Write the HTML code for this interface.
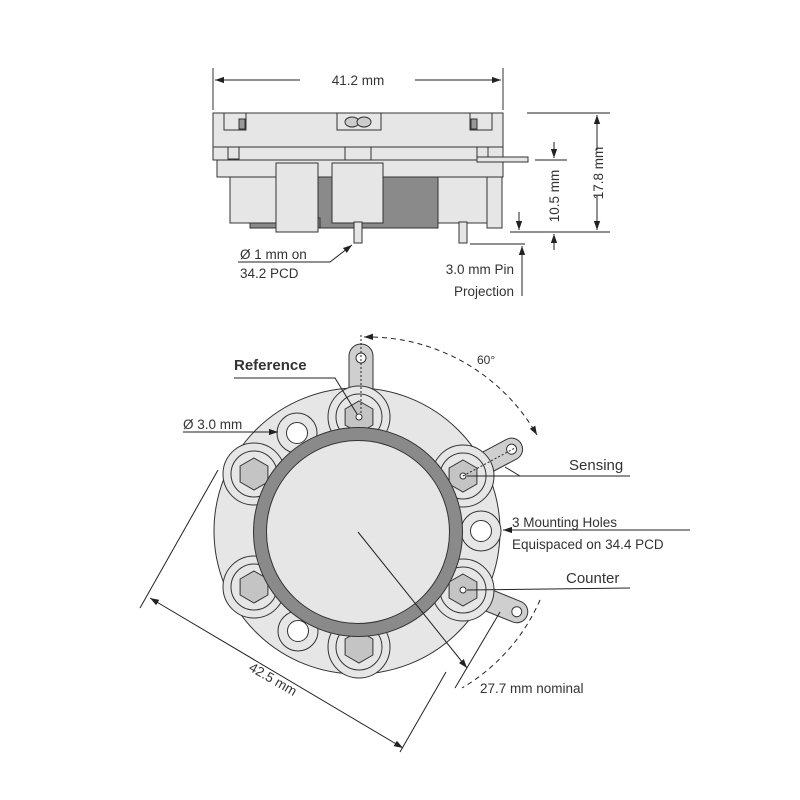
<!DOCTYPE html>
<html><head><meta charset="utf-8"><style>
html,body{margin:0;padding:0;background:#fff;}
svg{display:block;}
text{font-family:"Liberation Sans",sans-serif;fill:#333;}
</style></head><body>
<svg width="800" height="800" viewBox="0 0 800 800" xmlns="http://www.w3.org/2000/svg">
<defs>
<marker id="a" viewBox="0 0 10 10" refX="10" refY="5" markerWidth="9" markerHeight="9" orient="auto-start-reverse"><path d="M0,1.5 L10,5 L0,8.5 z" fill="#222"/></marker>
<g id="boss">
<circle r="31" fill="#e6e6e6" stroke="#333" stroke-width="1"/>
<circle r="23" fill="#e6e6e6" stroke="#333" stroke-width="1"/>
<polygon points="0,-16 13.9,-8 13.9,8 0,16 -13.9,8 -13.9,-8" fill="#c4c4c4" stroke="#333" stroke-width="1"/>
</g>
<g id="hole">
<circle r="20" fill="#e6e6e6" stroke="#333" stroke-width="1"/>
<circle r="10.5" fill="#fff" stroke="#333" stroke-width="1"/>
</g>
</defs>

<!-- TOP SIDE VIEW -->
<g stroke="#333" stroke-width="1" fill="#e6e6e6">
<line x1="213" y1="68" x2="213" y2="110"/>
<line x1="503" y1="68" x2="503" y2="110"/>
<rect x="318" y="177" width="120" height="51" fill="#8a8a8a"/>
<rect x="250" y="218" width="70" height="10" fill="#8a8a8a"/>
<rect x="213" y="113" width="290" height="34"/>
<rect x="224" y="113" width="22" height="17"/>
<rect x="239" y="119" width="6" height="10" fill="#999"/>
<rect x="337" y="113" width="44" height="17"/>
<ellipse cx="352" cy="122" rx="7" ry="5" fill="#ccc"/>
<ellipse cx="364" cy="122" rx="7" ry="5" fill="#ccc"/>
<rect x="470" y="113" width="22" height="17"/>
<rect x="471" y="119" width="6" height="10" fill="#999"/>
<rect x="213" y="147" width="290" height="13"/>
<rect x="228" y="147" width="11" height="12"/>
<rect x="345" y="147" width="26" height="13"/>
<rect x="477" y="147" width="11" height="12"/>
<rect x="217" y="160" width="286" height="17"/>
<rect x="230" y="177" width="46" height="46"/>
<rect x="276" y="163" width="42" height="69"/>
<rect x="332" y="163" width="51" height="60"/>
<rect x="438" y="177" width="49" height="46"/>
<rect x="487" y="177" width="15" height="51"/>
<rect x="477" y="157" width="51" height="5"/>
<rect x="354" y="222" width="8" height="21"/>
<rect x="459" y="222" width="8" height="21"/>
</g>
<g stroke="#222" stroke-width="1" fill="none">
<line x1="215" y1="80" x2="300" y2="80" marker-start="url(#a)"/>
<line x1="415" y1="80" x2="501" y2="80" marker-end="url(#a)"/>
<line x1="527" y1="113" x2="610" y2="113"/>
<line x1="510" y1="232" x2="610" y2="232"/>
<line x1="535" y1="160" x2="567" y2="160"/>
<line x1="470" y1="244" x2="525" y2="244"/>
<line x1="597" y1="150" x2="597" y2="115" marker-end="url(#a)"/>
<line x1="597" y1="196" x2="597" y2="230" marker-end="url(#a)"/>
<line x1="554" y1="142" x2="554" y2="158" marker-end="url(#a)"/>
<line x1="554" y1="250" x2="554" y2="234" marker-end="url(#a)"/>
<line x1="519" y1="212" x2="519" y2="230" marker-end="url(#a)"/>
<line x1="522" y1="296" x2="522" y2="246" marker-end="url(#a)"/>
<polyline points="238,262 330,262 352,245" marker-end="url(#a)"/>
</g>
<text x="358" y="85" font-size="13.5" text-anchor="middle">41.2 mm</text>
<text transform="translate(603,173) rotate(-90)" font-size="13.5" text-anchor="middle">17.8 mm</text>
<text transform="translate(559,196) rotate(-90)" font-size="13.5" text-anchor="middle">10.5 mm</text>
<text x="240" y="259" font-size="13.5">Ø 1 mm on</text>
<text x="240" y="278" font-size="13.5">34.2 PCD</text>
<text x="514" y="274" font-size="13.5" text-anchor="end">3.0 mm Pin</text>
<text x="514" y="296" font-size="13.5" text-anchor="end">Projection</text>

<!-- BOTTOM VIEW -->
<g stroke="#333" stroke-width="1">
<path d="M349,395 L349,356 A12,12 0 0 1 373,356 L373,395 Z" fill="#cfcfcf"/>
<g transform="translate(463,475) rotate(-28)"><path d="M0,-11 L55,-11 A11,11 0 0 1 55,11 L0,11 Z" fill="#cfcfcf"/><circle cx="55" cy="0" r="5" fill="#fff"/></g>
<g transform="translate(463,590) rotate(22)"><path d="M0,-11 L58,-11 A11,11 0 0 1 58,11 L0,11 Z" fill="#cfcfcf"/><circle cx="58" cy="0" r="5" fill="#fff"/></g>
<circle cx="361" cy="358" r="5" fill="#fff"/>
<circle cx="357" cy="531" r="143" fill="#e6e6e6"/>
</g>
<use href="#boss" x="359" y="417"/>
<use href="#boss" x="463" y="476"/>
<use href="#boss" x="463" y="590"/>
<use href="#boss" x="254" y="474"/>
<use href="#boss" x="254" y="587"/>
<use href="#boss" x="359" y="647"/>
<use href="#hole" x="297" y="433"/>
<use href="#hole" x="481" y="531"/>
<use href="#hole" x="298" y="631"/>
<circle cx="358" cy="532" r="98" fill="none" stroke="#8a8a8a" stroke-width="13"/>
<circle cx="358" cy="532" r="104.5" fill="none" stroke="#333" stroke-width="1"/>
<circle cx="358" cy="532" r="91.5" fill="#e6e6e6" stroke="#333" stroke-width="1"/>
<g fill="#fff" stroke="#333"><circle cx="359" cy="417" r="3"/><circle cx="463" cy="476" r="3"/><circle cx="463" cy="590" r="3"/></g>

<g stroke="#222" stroke-width="1" fill="none">
<line x1="361" y1="335" x2="361" y2="415" stroke-dasharray="2,2"/>
<path d="M364,337 A195,195 0 0 1 537,435" stroke-dasharray="5,4" marker-start="url(#a)" marker-end="url(#a)"/>
<line x1="463" y1="476" x2="515" y2="448" stroke-dasharray="2,2"/>
<polyline points="234,378 335,378 357,414"/>
<polyline points="183,432 278,432" marker-end="url(#a)"/>
<line x1="630" y1="476" x2="467" y2="476"/>
<line x1="505" y1="467" x2="520" y2="476"/>
<polyline points="690,530 503,530" marker-end="url(#a)"/>
<line x1="630" y1="588" x2="467" y2="590"/>
<line x1="358" y1="532" x2="467" y2="668" marker-end="url(#a)"/>
<path d="M540,600 A190,190 0 0 1 462,688" stroke-dasharray="5,4"/>
<line x1="140" y1="608" x2="218" y2="470"/>
<line x1="400" y1="752" x2="446" y2="672"/>
<line x1="455" y1="688" x2="500" y2="612"/>
<line x1="150" y1="598" x2="403" y2="748" marker-start="url(#a)" marker-end="url(#a)"/>
</g>
<text x="234" y="370" font-size="15" font-weight="bold">Reference</text>
<text x="183" y="429" font-size="13.5">Ø 3.0 mm</text>
<text x="477" y="364" font-size="12">60°</text>
<text x="569" y="470" font-size="15">Sensing</text>
<text x="512" y="527" font-size="13.5">3 Mounting Holes</text>
<text x="512" y="549" font-size="13.5">Equispaced on 34.4 PCD</text>
<text x="566" y="583" font-size="15">Counter</text>
<text x="480" y="693" font-size="13.5">27.7 mm nominal</text>
<text transform="translate(248,670) rotate(30)" font-size="13.5">42.5 mm</text>
</svg>
</body></html>
